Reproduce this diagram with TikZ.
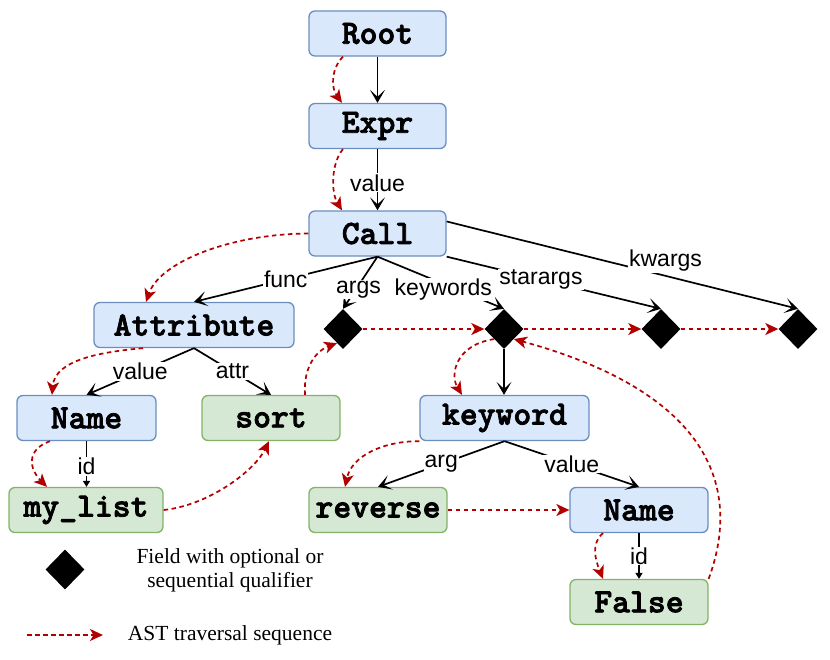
\documentclass[tikz,border=0pt]{standalone}
\usepackage{fontspec}
\setmainfont{Liberation Serif}
\newfontfamily\labelfont{Liberation Sans}
\newfontfamily\codefont{lmmonolt10-bold.otf}[FakeBold=2.2]
\usetikzlibrary{shapes.geometric,arrows.meta,calc}
\definecolor{bluefill}{HTML}{DAE8FC}
\definecolor{blueline}{HTML}{6C8EBF}
\definecolor{greenfill}{HTML}{D5E8D4}
\definecolor{greenline}{HTML}{82B366}
\definecolor{travred}{HTML}{B20000}
\begin{document}
\begin{tikzpicture}[x=1pt,y=-1pt,
 box/.style={rounded corners=6pt, line width=1.3pt, minimum height=45pt, inner sep=0pt, font=\codefont\fontsize{34}{34}\selectfont},
 bluebox/.style={box, fill=bluefill, draw=blueline},
 greenbox/.style={box, fill=greenfill, draw=greenline},
 field/.style={diamond, fill=black, minimum width=39pt, minimum height=40pt, inner sep=0pt},
 tree/.style={line width=1.7pt, -{Stealth[length=13pt,width=15pt,inset=7pt]}},
 idedge/.style={line width=1.7pt, -{Triangle[length=6pt,width=7pt]}},
 lbl/.style={fill=white, inner sep=1pt, font=\labelfont\fontsize{23}{23}\selectfont},
 trav/.style={travred, line width=1.7pt, dash pattern=on 4.5pt off 3.5pt, -{Stealth[length=13pt,width=12pt,inset=3.5pt]}},
 legtxt/.style={align=center, font=\fontsize{21.5}{24}\selectfont},
]
\useasboundingbox (0,0) rectangle (830,659);

% nodes
\node[bluebox, minimum width=137pt] (root) at (377.5,33.5) {Root};
\node[bluebox, minimum width=137pt] (expr) at (377.5,126) {Expr};
\node[bluebox, minimum width=137pt] (call) at (377.5,233.5) {Call};
\node[bluebox, minimum width=200pt] (attr) at (194,325) {Attribute};
\node[bluebox, minimum width=139pt] (name1) at (86.5,418) {Name};
\node[greenbox, minimum width=138pt] (sort) at (271,418) {sort};
\node[greenbox, minimum width=154pt] (mylist) at (86,510) {my\_list};
\node[bluebox, minimum width=169pt] (kw) at (504.5,418) {keyword};
\node[greenbox, minimum width=138pt] (rev) at (378,510) {reverse};
\node[bluebox, minimum width=138pt] (name2) at (639,510) {Name};
\node[greenbox, minimum width=138pt] (false) at (639,602) {False};

\node[field] (d1) at (343,329) {};
\node[field] (d2) at (504,329) {};
\node[field] (d3) at (661,329) {};
\node[field] (d4) at (798,329) {};

% tree edges
\draw[tree] (root) -- (expr);
\draw[tree] (expr) -- node[lbl,pos=0.55]{value} (call);
\draw[tree] (call.south) -- node[lbl]{func} (attr.north);
\draw[tree] (call.south) -- node[lbl,pos=0.55,yshift=-4pt]{args} (d1.north);
\draw[tree] (call.south) -- node[lbl,pos=0.52,yshift=-6pt]{keywords} (d2.north);
\draw[tree] (call.south east) -- node[lbl,pos=0.44]{starargs} (d3.north);
\coordinate (callkw) at ($(call.north east)!0.24!(call.south east)$);
\draw[tree] (callkw) -- node[lbl,pos=0.623,yshift=15pt]{kwargs} (d4.north);
\draw[tree] (attr.south) -- node[lbl]{value} (name1.north);
\draw[tree] (attr.south) -- node[lbl]{attr} (sort.north);
\draw[idedge] (name1.south) -- node[lbl,pos=0.55]{id} (name1.south |- mylist.north);
\draw[tree] (d2.south) -- (d2.south |- kw.north);
\draw[tree] (kw.south) -- node[lbl]{arg} (rev.north);
\draw[tree] (kw.south) -- node[lbl]{value} (name2.north);
\draw[idedge] (name2.south) -- node[lbl,pos=0.5]{id} (false.north);

% traversal sequence
\draw[trav] ($(root.south)+(-34.5,0)$) .. controls +(-12,12) and +(-11,-15) .. ($(expr.north)+(-35.5,0)$);
\draw[trav] ($(expr.south)+(-34.5,0)$) .. controls +(-12,14) and +(-11,-18) .. ($(call.north)+(-35.5,0)$);
\draw[trav] (call.west) .. controls (230,234) and (160,262) .. ($(attr.north)+(-48,0)$);
\draw[trav] ($(attr.south)+(-51,0)$) .. controls (100,352) and (55,360) .. ($(name1.north)+(-34.5,0)$);
\draw[trav] ($(name1.south)+(-36.5,0)$) .. controls (25,450) and (30,470) .. ($(mylist.north)+(-39,0)$);
\draw[trav] (mylist.east) .. controls (210,505) and (255,470) .. ($(sort.south)+(-2,0)$);
\draw[trav] ($(sort.north)+(34,0)$) .. controls (303,365) and (318,350) .. ($(d1.south)!0.3!(d1.west)$);
\draw[trav] (d1.east) -- (d2.west);
\draw[trav] ($(d2.west)!0.5!(d2.south)$) .. controls (455,345) and (450,375) .. ($(kw.north)+(-42.5,0)$);
\draw[trav] (d2.east) -- (d3.west);
\draw[trav] (d3.east) -- (d4.west);
\draw[trav] (kw.south west) .. controls (385,441) and (352,455) .. ($(rev.north)+(-33,0)$);
\draw[trav] (rev.east) -- (name2.west);
\draw[trav] ($(name2.south)+(-36,0)$) .. controls (591,543) and (595,559) .. ($(false.north)+(-36,0)$);
\draw[trav] (false.north east) .. controls (745,480) and (700,390) .. ($(d2.east)!0.5!(d2.south)$);

% legend
\node[field] (legdia) at (65,569.5) {};
\node[legtxt] (legfield) at (230,570) {Field with optional or\\sequential qualifier};
\coordinate (legs) at (27,635);
\coordinate (lege) at (103,635);
\draw[trav] (legs) -- (lege);
\node[legtxt] (legtrav) at (230,635) {AST traversal sequence};
\end{tikzpicture}
\end{document}
